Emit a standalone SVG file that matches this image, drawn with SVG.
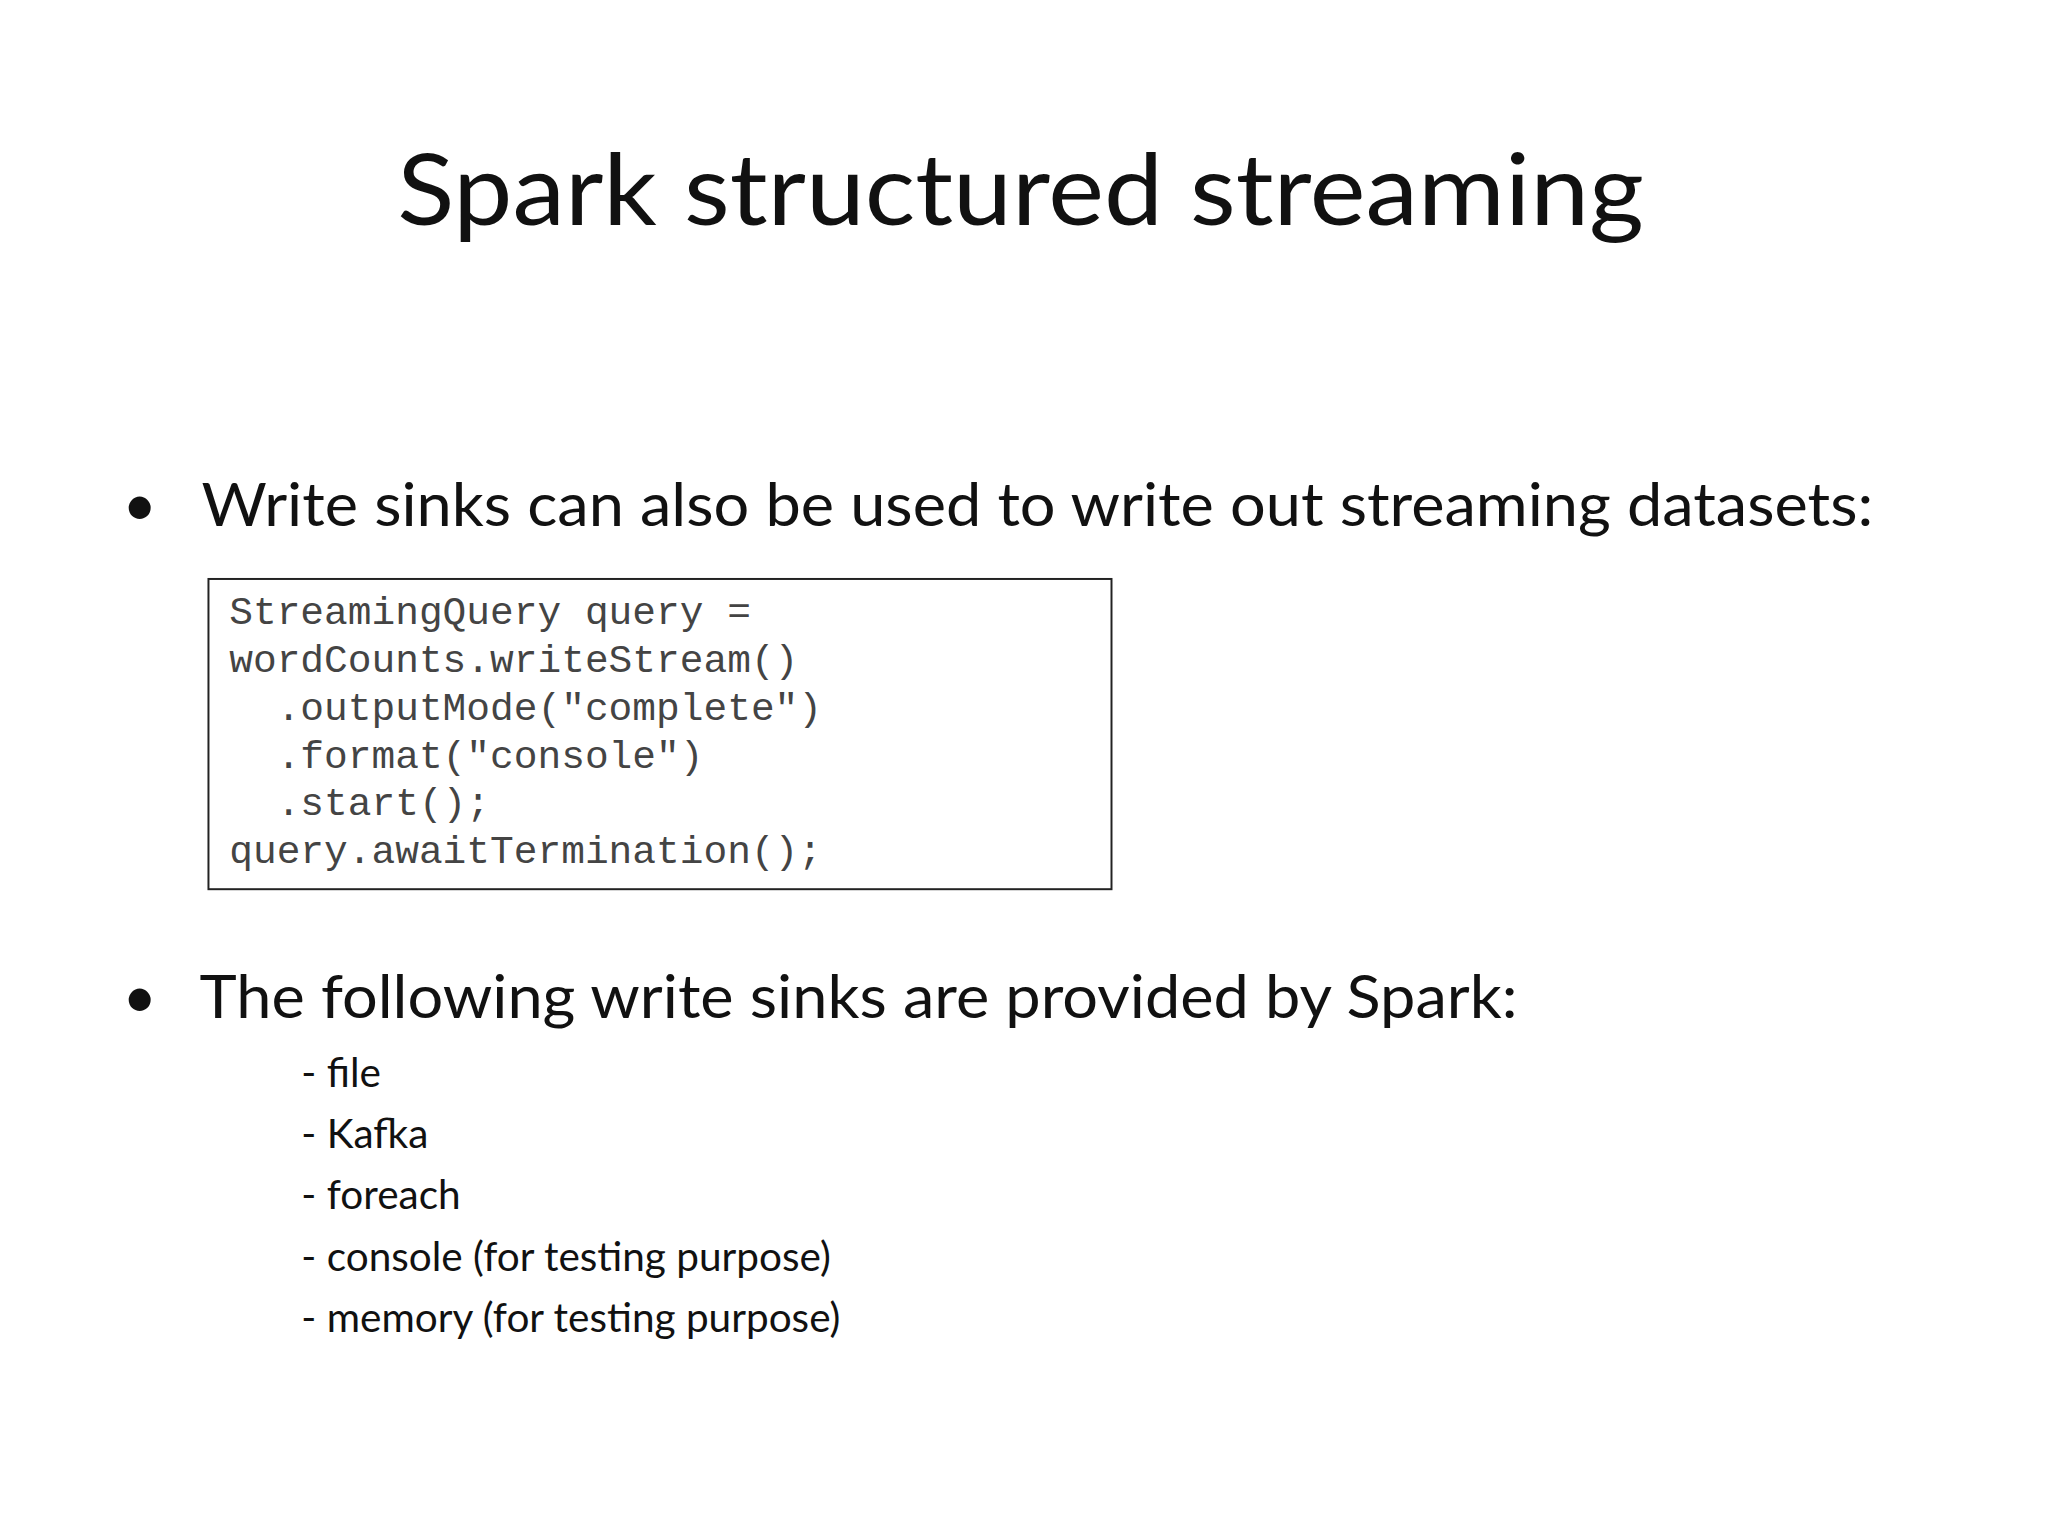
<svg xmlns="http://www.w3.org/2000/svg" width="2048" height="1536" viewBox="0 0 2048 1536">
<style>
.t{font-family:Lato,"Open Sans",sans-serif;fill:#111}
.c{font-family:"Liberation Mono",monospace;font-size:40px;fill:#444}
.s{font-family:Lato,"Open Sans",sans-serif;font-size:41px;fill:#111}
</style>
<rect width="2048" height="1536" fill="#fff"/>
<g transform="scale(0.988)">
<text class="t" x="1033" y="228" font-size="100" text-anchor="middle" textLength="1262" lengthAdjust="spacingAndGlyphs">Spark structured streaming</text>
<g id="bullet1">
<text class="t" x="124" y="532" font-size="60">•</text>
<text class="t" x="204" y="532" font-size="60" textLength="1692" lengthAdjust="spacingAndGlyphs">Write sinks can also be used to write out streaming datasets:</text>
</g>
<g id="code">
<rect x="211" y="586" width="914" height="314" fill="#fff" stroke="#222" stroke-width="2"/>
<text class="c" x="232" y="632">StreamingQuery query =</text>
<text class="c" x="232" y="680">wordCounts.writeStream()</text>
<text class="c" x="280" y="729">.outputMode("complete")</text>
<text class="c" x="280" y="777">.format("console")</text>
<text class="c" x="280" y="825">.start();</text>
<text class="c" x="232" y="873">query.awaitTermination();</text>
</g>
<g id="bullet2">
<text class="t" x="124" y="1030" font-size="60">•</text>
<text class="t" x="202" y="1030" font-size="60" textLength="1334" lengthAdjust="spacingAndGlyphs">The following write sinks are provided by Spark:</text>
</g>
<g id="sinks">
<text class="s" x="305" y="1100">- file</text>
<text class="s" x="305" y="1162">- Kafka</text>
<text class="s" x="305" y="1224">- foreach</text>
<text class="s" x="305" y="1286">- console (for testing purpose)</text>
<text class="s" x="305" y="1348">- memory (for testing purpose)</text>
</g>
</g>
</svg>
